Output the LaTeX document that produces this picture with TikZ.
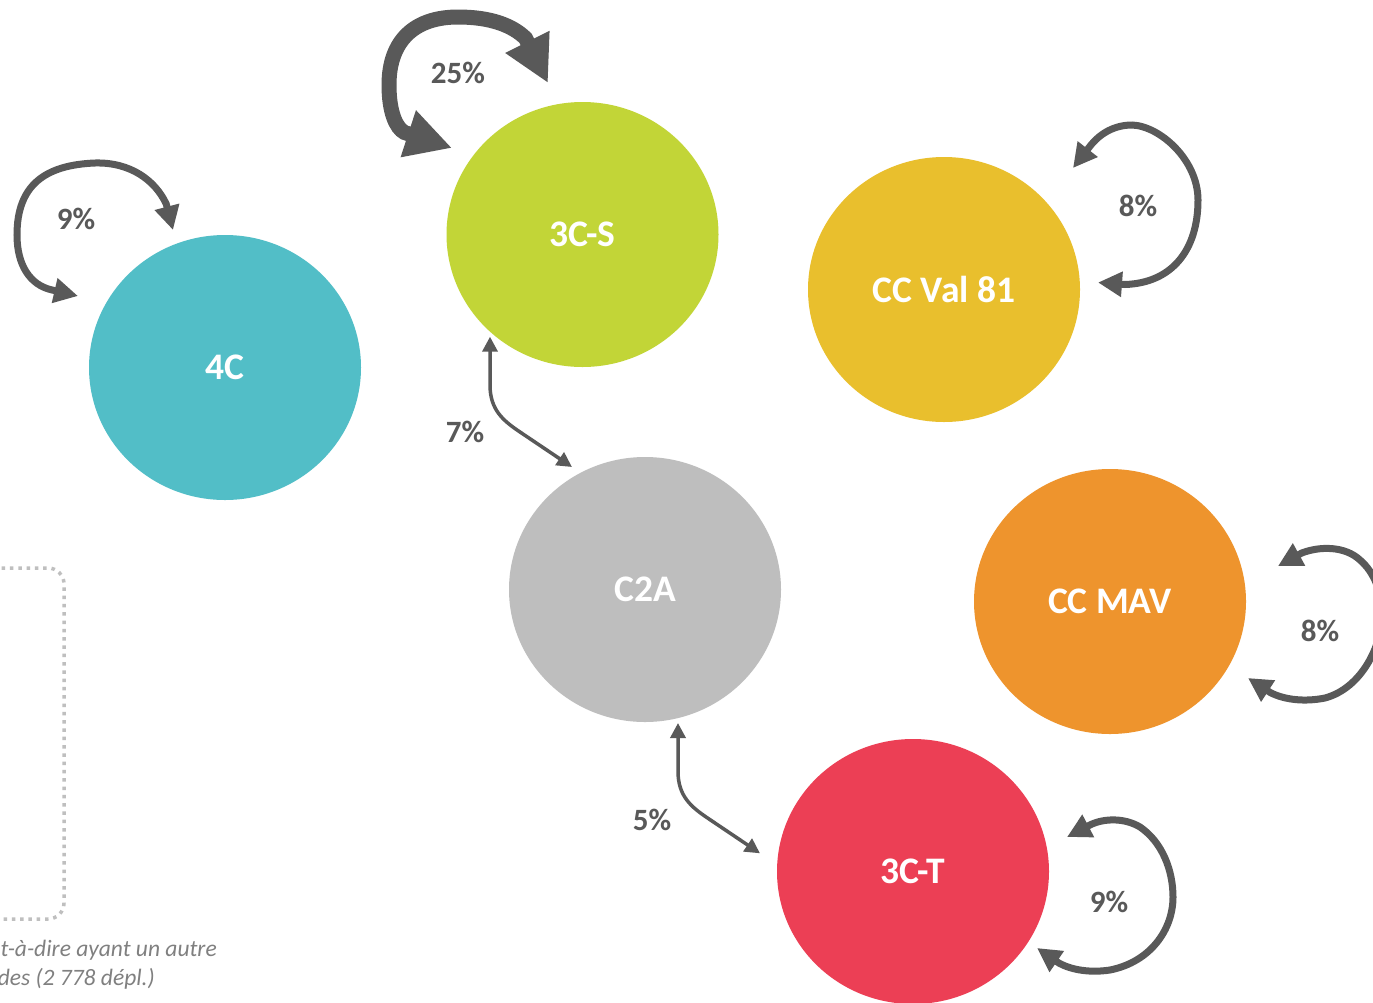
\documentclass[tikz,border=0pt]{standalone}
\usepackage{fontspec}
\setmainfont{Carlito}
\usetikzlibrary{shapes.geometric,arrows.meta}
\definecolor{cteal}{HTML}{52BEC7}
\definecolor{clime}{HTML}{C2D537}
\definecolor{cgold}{HTML}{E9BF2D}
\definecolor{cgrey}{HTML}{BEBEBE}
\definecolor{corange}{HTML}{EE942D}
\definecolor{cred}{HTML}{EC3F55}
\definecolor{arrowgray}{HTML}{595959}
\definecolor{boxgray}{HTML}{BFBFBF}
\definecolor{notegray}{HTML}{808080}
\begin{document}
\begin{tikzpicture}[x=1pt,y=-1pt,
  bubble/.style={ellipse, minimum width=272pt, minimum height=265pt, inner sep=0pt,
    text=white, font=\fontsize{37.5}{40}\selectfont\bfseries},
  pct/.style={text=arrowgray, inner sep=0pt, font=\fontsize{31}{34}\selectfont\bfseries},
  arcbig/.style={draw=arrowgray, line width=15pt,
    {Triangle[length=46pt,width=46pt]}-{Triangle[length=46pt,width=46pt]}},
  arcloop/.style={draw=arrowgray, line width=7pt,
    {Triangle[length=24pt,width=24pt]}-{Triangle[length=24pt,width=24pt]}},
  arclink/.style={draw=arrowgray, line width=3.5pt,
    {Triangle[length=15pt,width=15pt]}-{Triangle[length=15pt,width=15pt]}},
  notetext/.style={text=notegray, inner sep=0pt, font=\fontsize{23.5}{28}\selectfont\itshape}]
\useasboundingbox (0,0) rectangle (1373,1002);
\clip (0,0) rectangle (1373,1002);
\fill[white] (0,0) rectangle (1373,1002);

% dotted frame
\draw[boxgray, line width=3.5pt, dash pattern=on 3.5pt off 4.8pt, rounded corners=16pt]
  (-100,568) rectangle (64,919);

% bubbles
\node[bubble, fill=cteal]   (c4)   at (225,367.5)  {4C};
\node[bubble, fill=clime]   (c3s)  at (582.5,234.5) {3C-S};
\node[bubble, fill=cgold]   (cval) at (944,289.5)  {CC Val 81};
\node[bubble, fill=cgrey]   (c2a)  at (645,589.5)  {C2A};
\node[bubble, fill=corange] (cmav) at (1110,601.5) {CC MAV};
\node[bubble, fill=cred]    (c3t)  at (913,871.5)  {3C-T};

% end points of the connectors, relative to the bubbles
\coordinate (s25a) at ([shift={(-130.5,-86.5)}]c3s.center);
\coordinate (s25b) at ([shift={(-34.5,-151.5)}]c3s.center);
\coordinate (s4a)  at ([shift={(-147,-71.5)}]c4.center);
\coordinate (s4b)  at ([shift={(-52,-137.5)}]c4.center);
\coordinate (svala) at ([shift={(129,-121.5)}]cval.center);
\coordinate (svalb) at ([shift={(154,-7)}]cval.center);
\coordinate (smava) at ([shift={(168,-35.5)}]cmav.center);
\coordinate (smavb) at ([shift={(138,76.5)}]cmav.center);
\coordinate (s3ta) at ([shift={(154,-34.5)}]c3t.center);
\coordinate (s3tb) at ([shift={(124,76.5)}]c3t.center);
\coordinate (l7a) at ([shift={(-92.5,102.2)}]c3s.center);
\coordinate (l7b) at ([shift={(-73,-122.5)}]c2a.center);
\coordinate (l5a) at ([shift={(33,133.5)}]c2a.center);
\coordinate (l5b) at ([shift={(-153,-18.2)}]c3t.center);

% 25% self loop on 3C-S
\draw[arcbig] (s25a) -- (404.5,132.5)
  .. controls (396,128) and (389,112) .. (389,85)
  .. controls (389,40) and (415,17) .. (458,17)
  .. controls (490,17) and (512,25) .. (525.6,38.3) -- (s25b);
\node[pct] (p25) at (458,73) {25\%};

% 9% self loop on 4C
\draw[arcloop] (s4a) -- (51.7,289.9)
  .. controls (30,285) and (17,265) .. (17,235)
  .. controls (17,185) and (45,165) .. (95,163)
  .. controls (130,162) and (155,180) .. (166.2,203.9) -- (s4b);
\node[pct] (p9a) at (76,219) {9\%};

% 8% self loop on CC Val 81
\draw[arcloop] (svala) -- (1089.6,146.7)
  .. controls (1100,133) and (1115,125) .. (1132,125)
  .. controls (1160,126) and (1198,160) .. (1198,200)
  .. controls (1198,250) and (1172,283) .. (1125,284.5) -- (svalb);
\node[pct] (p8a) at (1138,206) {8\%};

% 8% self loop on CC MAV
\draw[arcloop] (smava) -- (1301.7,553)
  .. controls (1320,546) and (1345,546) .. (1360,560)
  .. controls (1374,572) and (1382,592) .. (1382,615)
  .. controls (1382,645) and (1362,688) .. (1325,698)
  .. controls (1305,702) and (1285,700) .. (1270.6,692.7) -- (smavb);
\node[pct] (p8b) at (1320,631) {8\%};

% 9% self loop on 3C-T
\draw[arcloop] (s3ta) -- (1090.9,824.5)
  .. controls (1105,818) and (1125,818) .. (1140,827)
  .. controls (1162,842) and (1173,870) .. (1173,897)
  .. controls (1173,930) and (1150,962) .. (1110,970)
  .. controls (1090,973) and (1072,970) .. (1059.3,963.3) -- (s3tb);
\node[pct] (p9b) at (1109,902) {9\%};

% 7% link 3C-S <-> C2A
\draw[arclink] (l7a) -- (490,385)
  .. controls (490,410) and (503.4,420.8) .. (520,432) -- (l7b);
\node[pct] (p7) at (465,432) {7\%};

% 5% link C2A <-> 3C-T
\draw[arclink] (l5a) -- (678,771.3)
  .. controls (678,796.3) and (691.4,807.1) .. (708,818.3) -- (l5b);
\node[pct] (p5) at (652,820) {5\%};

% note text (cut at the left edge)
\node[notetext, anchor=base east] (n1) at (217,956) {t-à-dire ayant un autre};
\node[notetext, anchor=base east] (n2) at (155,985) {des (2 778 dépl.)};
\end{tikzpicture}
\end{document}
